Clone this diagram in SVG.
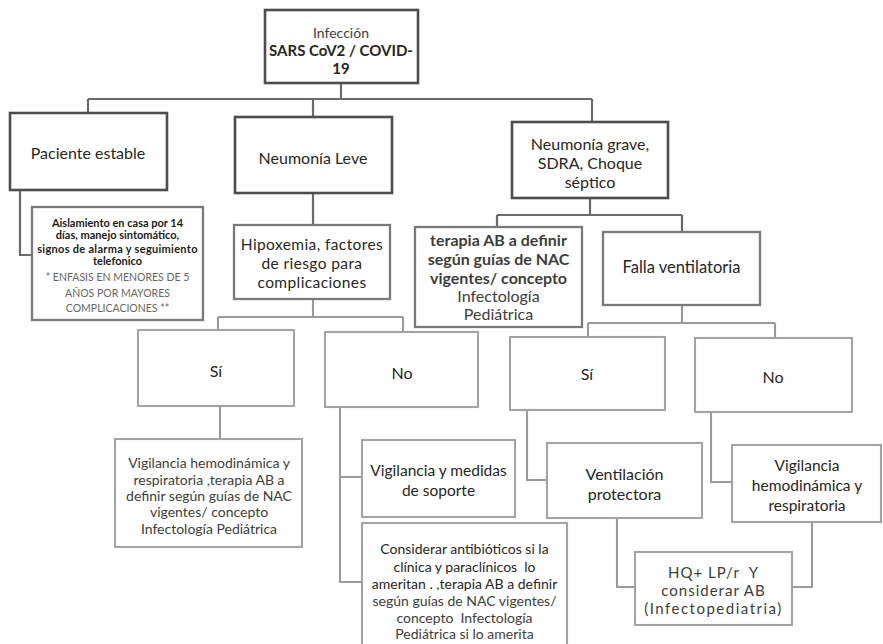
<svg xmlns="http://www.w3.org/2000/svg" width="883" height="644" viewBox="0 0 883 644">
<style>
  text { font-family: Lato, "Liberation Sans", Arial, sans-serif; fill: #262626; text-anchor: middle; dominant-baseline: central; white-space: pre; }
  .b1 { fill: #fff; stroke: #4d4d4d; stroke-width: 2.6; }
  .b2 { fill: #fff; stroke: #7a7a7a; stroke-width: 2.3; }
  .b3 { fill: #fff; stroke: #a3a3a3; stroke-width: 2.1; }
  .c1 { fill: none; stroke: #6a6a6a; stroke-width: 2.2; }
  .c2 { fill: none; stroke: #9a9a9a; stroke-width: 2.1; }
  .f16 { font-size: 16px; }
  .f15 { font-size: 15.5px; }
  .f14 { font-size: 14px; }
  .sm { font-size: 11px; font-weight: bold; fill: #1a1a1a; }
  .gr { font-size: 10.5px; fill: #666; }
  .lt { fill: #3d3d3d; }
</style>
<rect width="883" height="644" fill="#fff"/>
<g id="connectors">
  <path class="c1" d="M341,83 V99 M88,99 H592 M88,99 V113 M313,99 V117 M592,99 V122"/>
  <path class="c1" d="M20,190 V255 H32"/>
  <path class="c1" d="M313,193 V225"/>
  <path class="c2" d="M313,299 V317 M218,317 H403 M218,317 V330 M403,317 V332"/>
  <path class="c2" d="M220,406 V439"/>
  <path class="c2" d="M340,407 V582 H362 M340,477 H362"/>
  <path class="c1" d="M590,198 V215 M497,215 H682 M497,215 V227 M682,215 V232"/>
  <path class="c2" d="M682,305 V323 M588,323 H775 M588,323 V337 M775,323 V338"/>
  <path class="c2" d="M527,410 V480 H547"/>
  <path class="c2" d="M711,412 V482 H732"/>
  <path class="c2" d="M617,518 V587 H635 M812,522 V587 H792"/>
</g>
<g id="n-root">
  <rect class="b1" x="265" y="10" width="153" height="73"/>
  <text x="341" y="32" font-size="14" class="lt">Infección</text>
  <text x="341" y="50" font-size="15" font-weight="bold">SARS CoV2 / COVID-</text>
  <text x="341" y="68" font-size="15" font-weight="bold">19</text>
</g>
<g id="n-estable">
  <rect class="b1" x="10" y="113" width="157" height="77"/>
  <text x="88" y="152" class="f16">Paciente estable</text>
</g>
<g id="n-aislamiento">
  <rect class="b2" x="32" y="207" width="171" height="113"/>
  <text x="117.5" y="222" class="sm">Aislamiento en casa por 14</text>
  <text x="117.5" y="234" class="sm">días, manejo sintomático,</text>
  <text x="117.5" y="248" class="sm" font-size="10" letter-spacing="0.3">signos de alarma y seguimiento</text>
  <text x="117.5" y="260" class="sm">telefonico</text>
  <text x="117.5" y="277" class="gr">* ENFASIS EN MENORES DE 5</text>
  <text x="117.5" y="293" class="gr">AÑOS POR MAYORES</text>
  <text x="117.5" y="308" class="gr">COMPLICACIONES **</text>
</g>
<g id="n-leve">
  <rect class="b1" x="235" y="117" width="157" height="76"/>
  <text x="313" y="157" class="f16">Neumonía Leve</text>
</g>
<g id="n-hipoxemia">
  <rect class="b2" x="234" y="225" width="156" height="74"/>
  <text x="312" y="244" font-size="15.5" letter-spacing="0.4">Hipoxemia, factores</text>
  <text x="312" y="263" font-size="15.5" letter-spacing="0.4">de riesgo para</text>
  <text x="312" y="282" font-size="15.5" letter-spacing="0.4">complicaciones</text>
</g>
<g id="n-grave">
  <rect class="b1" x="512" y="122" width="156" height="76"/>
  <text x="590" y="143" class="f16">Neumonía grave,</text>
  <text x="590" y="162" class="f16">SDRA, Choque</text>
  <text x="590" y="181" class="f16">séptico</text>
</g>
<g id="n-terapia">
  <rect class="b2" x="415" y="227" width="167" height="100"/>
  <text x="498.5" y="239" font-size="16" font-weight="bold" class="lt">terapia AB a definir</text>
  <text x="498.5" y="258" font-size="16" font-weight="bold" class="lt">según guías de NAC</text>
  <text x="498.5" y="277" font-size="16" font-weight="bold" class="lt">vigentes/ concepto</text>
  <text x="498.5" y="295" font-size="16" class="lt">Infectología</text>
  <text x="498.5" y="313" font-size="16" class="lt">Pediátrica</text>
</g>
<g id="n-falla">
  <rect class="b2" x="603" y="232" width="157" height="73"/>
  <text x="681.5" y="267" font-size="16.5">Falla ventilatoria</text>
</g>
<g id="n-si-1">
  <rect class="b3" x="138" y="330" width="156" height="76"/>
  <text x="216" y="370" class="f16">Sí</text>
</g>
<g id="n-no-1">
  <rect class="b3" x="325" y="332" width="153" height="75"/>
  <text x="402" y="372" class="f16">No</text>
</g>
<g id="n-si-2">
  <rect class="b3" x="510" y="337" width="155" height="73"/>
  <text x="587" y="373" class="f16">Sí</text>
</g>
<g id="n-no-2">
  <rect class="b3" x="695" y="338" width="157" height="74"/>
  <text x="773" y="376" class="f16">No</text>
</g>
<g id="n-vig-hemo-1">
  <rect class="b3" x="115" y="439" width="187" height="108"/>
  <text x="209" y="462" class="f14 lt">Vigilancia hemodinámica y</text>
  <text x="209" y="479" class="f14 lt">respiratoria ,terapia AB a</text>
  <text x="209" y="495" class="f14 lt">definir según guías de NAC</text>
  <text x="209" y="511" class="f14 lt">vigentes/ concepto</text>
  <text x="209" y="528" class="f14 lt">Infectología Pediátrica</text>
</g>
<g id="n-vig-soporte">
  <rect class="b3" x="362" y="440" width="153" height="77"/>
  <text x="438.5" y="470" class="f15">Vigilancia y medidas</text>
  <text x="438.5" y="490" class="f15">de soporte</text>
</g>
<g id="n-considerar">
  <rect class="b3" x="362" y="523" width="205" height="126"/>
  <text x="464.5" y="548" class="f14">Considerar antibióticos si la</text>
  <text x="464.5" y="566" class="f14" xml:space="preserve">clínica y paraclínicos  lo</text>
  <text x="464.5" y="583" class="f14">ameritan . ,terapia AB a definir</text>
  <text x="464.5" y="600" class="f14 lt">según guías de NAC vigentes/</text>
  <text x="464.5" y="617" class="f14 lt" xml:space="preserve">concepto  Infectología</text>
  <text x="464.5" y="633" class="f14 lt">Pediátrica si lo amerita</text>
</g>
<g id="n-ventilacion">
  <rect class="b3" x="547" y="443" width="155" height="75"/>
  <text x="624.5" y="473" class="f16">Ventilación</text>
  <text x="624.5" y="493" class="f16">protectora</text>
</g>
<g id="n-vig-hemo-2">
  <rect class="b3" x="732" y="445" width="149" height="77"/>
  <text x="807" y="465" class="f15">Vigilancia</text>
  <text x="807" y="485" class="f15">hemodinámica y</text>
  <text x="807" y="505" class="f15">respiratoria</text>
</g>
<g id="n-hq">
  <rect class="b3" x="635" y="552" width="157" height="73"/>
  <text x="713.5" y="572" font-size="15" letter-spacing="1" class="lt" xml:space="preserve">HQ+ LP/r  Y</text>
  <text x="713.5" y="590" font-size="15" letter-spacing="1" class="lt">considerar AB</text>
  <text x="713.5" y="608" font-size="15" letter-spacing="1.5" class="lt">(Infectopediatria)</text>
</g>
</svg>
